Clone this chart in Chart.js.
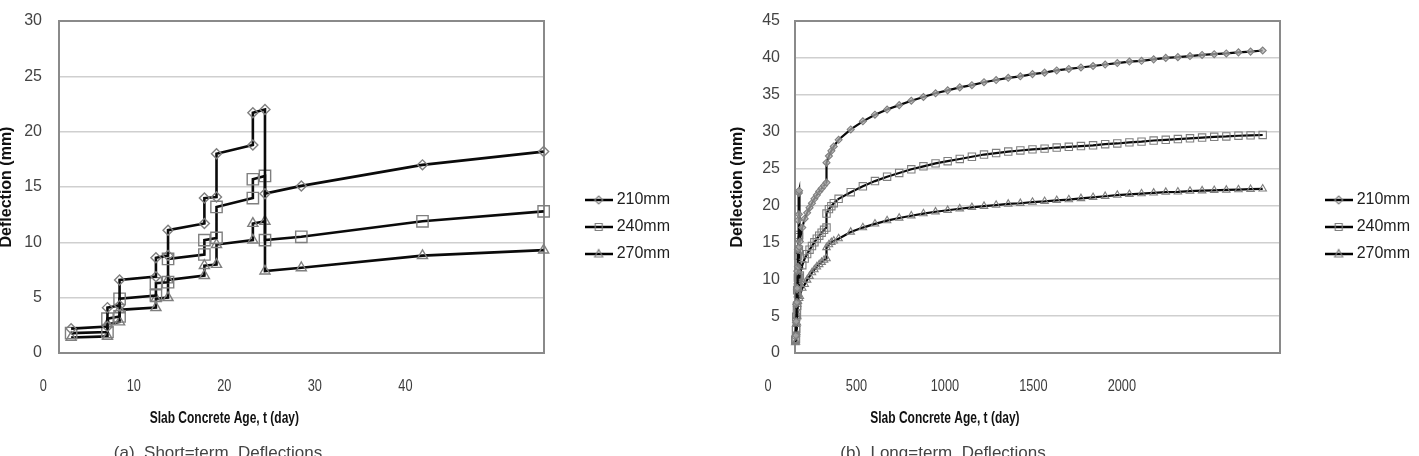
<!DOCTYPE html>
<html><head><meta charset="utf-8">
<script src="https://cdn.jsdelivr.net/npm/chart.js@4.4.1/dist/chart.umd.min.js"></script>
<style>
html,body{margin:0;padding:0;background:#fff;width:1419px;height:456px;overflow:hidden;}
#c1{position:absolute;left:0;top:0;}
#c2{position:absolute;left:700px;top:0;}
.cap{position:absolute;top:443px;font-family:'Liberation Sans',Arial,sans-serif;font-size:17px;line-height:20px;color:#444;white-space:nowrap;transform:translateX(-50%);}
</style></head><body>
<canvas id="c1" width="700" height="456"></canvas>
<canvas id="c2" width="719" height="456"></canvas>
<div class="cap" style="left:218px">(a)&nbsp; Short=term&nbsp; Deflections</div>
<div class="cap" style="left:943px">(b)&nbsp; Long=term&nbsp; Deflections</div>
<script>
// ---------- data ----------
const seriesNames = ['210mm', '240mm', '270mm'];
const xTitle = 'Slab Concrete Age, t (day)';
const yTitle = 'Deflection (mm)';

// (a) short-term
const shortDays = [1,4,4,5,5,8,8,9,9,12,12,13,13,16,16,17,17,20,30,40];
const short210 = [2.2,2.4,4.1,4.3,6.6,6.9,8.6,8.8,11.1,11.7,14.0,14.1,18.0,18.8,21.7,22.0,14.4,15.1,17.0,18.2];
const short240 = [1.8,1.9,3.1,3.3,4.9,5.2,6.3,6.4,8.5,8.9,10.2,10.4,13.2,14.0,15.7,16.0,10.2,10.5,11.9,12.8];
const short270 = [1.4,1.5,2.6,2.8,3.9,4.1,4.9,5.0,6.6,7.0,7.9,8.0,9.8,10.2,11.7,11.9,7.4,7.7,8.8,9.3];
const shortXTicks = [0,10,20,30,40];
const shortYMax = 30;

// (b) long-term
const longDays = [1,4,4,5,5,8,8,9,9,12,12,13,13,16,16,17,17,20,30,40,
  50,60,70,80,90,100,110,120,130,130,140,150,160,
  180,230,280,330,380,430,480,530,580,630,680,730,780,830,880,930,980,1030,1080,1130,
  1180,1230,1280,1330,1380,1430,1480,1530,1580,1630,1680,1730,1780,1830,1880,1930];
const long210 = [2.2,2.4,4.1,4.3,6.6,6.9,8.6,8.8,11.1,11.7,14.0,14.1,18.0,18.8,21.7,22.0,14.4,15.1,17.0,18.2,
  19.0,19.7,20.3,20.9,21.4,21.9,22.3,22.7,23.1,25.8,26.7,27.4,28.0,
  28.9,30.3,31.4,32.3,33.0,33.6,34.2,34.7,35.2,35.6,36.0,36.3,36.7,37.0,37.3,37.5,37.8,38.0,38.3,38.5,
  38.7,38.9,39.1,39.3,39.5,39.6,39.8,40.0,40.1,40.25,40.4,40.5,40.6,40.75,40.85,41.0];
const long240 = [1.8,1.9,3.1,3.3,4.9,5.2,6.3,6.4,8.5,8.9,10.2,10.4,13.2,14.0,15.7,16.0,10.2,10.5,11.9,12.8,
  13.4,14.0,14.5,15.0,15.5,15.9,16.3,16.7,17.0,18.9,19.5,19.9,20.3,
  20.9,21.8,22.6,23.3,23.9,24.4,24.9,25.3,25.7,26.0,26.3,26.6,26.9,27.1,27.3,27.45,27.6,27.7,27.85,27.95,
  28.05,28.15,28.3,28.4,28.55,28.65,28.8,28.9,29.0,29.1,29.2,29.3,29.35,29.45,29.5,29.55];
const long270 = [1.4,1.5,2.6,2.8,3.9,4.1,4.9,5.0,6.6,7.0,7.9,8.0,9.8,10.2,11.7,11.9,7.4,7.7,8.8,9.3,
  9.9,10.4,10.9,11.3,11.7,12.0,12.3,12.6,12.8,14.3,14.7,15.0,15.2,
  15.5,16.4,17.0,17.5,17.95,18.3,18.6,18.9,19.15,19.35,19.55,19.75,19.9,20.05,20.2,20.3,20.45,20.55,20.7,20.8,
  20.95,21.1,21.25,21.4,21.5,21.6,21.7,21.8,21.85,21.95,22.0,22.05,22.1,22.15,22.2,22.25];
const longXTicks = [0,500,1000,1500,2000];
const longYMax = 45;

// ---------- styling ----------
const SANS = "'Liberation Sans', Arial, sans-serif";
const BORDER = '#8a8a8a';
const GRID = '#cfcfcf';
const MARK = '#7f7f7f';
const SQUISH = 0.75;   // the x-axis text block of the original is horizontally compressed
const pointStyles = ['rectRot', 'rect', 'triangle'];

// linear scale whose labels are drawn horizontally compressed (about the canvas' left edge)
class SquishScale extends Chart.LinearScale {
  drawLabels(chartArea) {
    const ctx = this.ctx;
    ctx.save();
    ctx.scale(SQUISH, 1);
    super.drawLabels(chartArea);
    ctx.restore();
  }
}
SquishScale.id = 'squish';
SquishScale.defaults = Chart.LinearScale.defaults;
Chart.register(SquishScale);

function makeIcon(style) {
  const c = document.createElement('canvas');
  c.width = 28; c.height = 14;
  const g = c.getContext('2d');
  g.strokeStyle = '#000'; g.lineWidth = 2.5;
  g.beginPath(); g.moveTo(0, 7); g.lineTo(28, 7); g.stroke();
  g.strokeStyle = MARK; g.lineWidth = 1.2; g.beginPath();
  if (style === 'rectRot') { g.moveTo(14, 3); g.lineTo(18, 7); g.lineTo(14, 11); g.lineTo(10, 7); g.closePath(); }
  else if (style === 'rect') { g.rect(10.5, 3.5, 7, 7); }
  else { g.moveTo(14, 2.5); g.lineTo(18, 10); g.lineTo(10, 10); g.closePath(); }
  g.stroke();
  return c;
}
const icons = pointStyles.map(makeIcon);

function buildChart(canvasId, p) {
  const datasets = p.series.map((vals, i) => ({
    label: seriesNames[i],
    data: p.days.map((d, k) => ({x: d, y: vals[k]})),
    xAxisID: 'x', yAxisID: 'y',
    borderColor: '#0a0a0a',
    borderWidth: p.lineWidth,
    pointStyle: pointStyles[i],
    pointRadius: p.radii[i],
    pointBorderColor: MARK,
    pointBorderWidth: p.pointBorder,
    pointBackgroundColor: p.fills[i],
    tension: 0,
    clip: false
  }));
  return new Chart(document.getElementById(canvasId), {
    type: 'line',
    data: {datasets},
    options: {
      responsive: false,
      animation: false,
      devicePixelRatio: 1,
      layout: {padding: {left: p.padL, right: p.padR, top: 21, bottom: 23}},
      plugins: {
        tooltip: {enabled: false},
        legend: {
          position: 'right', align: 'center',
          labels: {
            usePointStyle: true, pointStyleWidth: 20, padding: 11,
            color: '#1e1e1e', font: {family: SANS, size: 16},
            generateLabels: chart => chart.data.datasets.map((ds, i) => ({
              text: ds.label, pointStyle: icons[i], datasetIndex: i, hidden: false,
              lineWidth: 0, strokeStyle: 'rgba(0,0,0,0)', fillStyle: 'rgba(0,0,0,0)', fontColor: '#1e1e1e'
            }))
          }
        }
      },
      scales: {
        x: {
          type: 'linear', position: 'bottom', weight: 0, min: 0, max: p.xMax,
          grid: {display: false, drawTicks: false}, ticks: {display: false},
          border: {display: true, color: BORDER, width: 2},
          afterFit: s => { s.height = 0; }
        },
        xl: {
          type: 'squish', position: 'bottom', weight: 1, min: p.xlMin, max: p.xlMax,
          grid: {display: false, drawTicks: false}, border: {display: false},
          ticks: {autoSkip: false, maxRotation: 0, minRotation: 0, padding: 23, color: '#3c3c3c',
                  font: {family: SANS, size: 17}, callback: v => String(v)},
          afterBuildTicks: s => { s.ticks = p.xTicks.map(v => ({value: v})); },
          afterFit: s => { s.height = 50; }
        },
        xt: {
          type: 'squish', position: 'bottom', weight: 2, min: p.xlMin, max: p.xlMax,
          grid: {display: false, drawTicks: false}, border: {display: false},
          ticks: {autoSkip: false, maxRotation: 0, minRotation: 0, padding: 6, color: '#111',
                  font: {family: SANS, size: 16, weight: 'bold'}, callback: () => xTitle},
          afterBuildTicks: s => { s.ticks = [{value: p.titleAt}]; },
          afterFit: s => { s.height = 30; }
        },
        y: {
          position: 'left', min: 0, max: p.yMax,
          ticks: {stepSize: 5, padding: p.yPad, color: '#444', font: {family: SANS, size: 16}},
          grid: {drawTicks: false,
                 color: c => (c.tick && (c.tick.value === p.yMax || c.tick.value === 0)) ? BORDER : GRID,
                 lineWidth: c => (c.tick && c.tick.value === p.yMax) ? 2 : 1.5},
          border: {display: true, color: BORDER, width: 2},
          title: {display: true, text: yTitle, color: '#111',
                  font: {family: SANS, size: 16, weight: 'bold'}, padding: {top: -3, bottom: 0}},
          afterFit: s => { s.width = p.yW; s.paddingTop = 0; s.paddingBottom = 0; }
        },
        yr: {
          position: 'right', min: 0, max: 1,
          grid: {display: false, drawTicks: false}, ticks: {display: false},
          border: {display: true, color: BORDER, width: 2},
          afterFit: s => { s.width = p.rW; s.paddingTop = 0; s.paddingBottom = 0; }
        }
      }
    }
  });
}

buildChart('c1', {
  days: shortDays, series: [short210, short240, short270],
  xMax: 40, yMax: shortYMax, xTicks: shortXTicks, titleAt: 20,
  xlMin: 0.11, xlMax: 40.26,
  padL: 0, padR: 20, yW: 59, yPad: 17, rW: 34,
  lineWidth: 2.6, radii: [5, 8, 5.8], pointBorder: 1.4,
  fills: ['rgba(0,0,0,0)', 'rgba(0,0,0,0)', 'rgba(0,0,0,0)']
});
buildChart('c2', {
  days: longDays, series: [long210, long240, long270],
  xMax: 2000, yMax: longYMax, xTicks: longXTicks, titleAt: 1000,
  xlMin: 18.2, xlMax: 2073,
  padL: 31, padR: -1, yW: 64, yPad: 15, rW: 38,
  lineWidth: 2.2, radii: [3.5, 5.2, 4.3], pointBorder: 1.1,
  fills: ['rgba(175,175,175,0.7)', 'rgba(0,0,0,0)', 'rgba(0,0,0,0)']
});
</script>
</body></html>
